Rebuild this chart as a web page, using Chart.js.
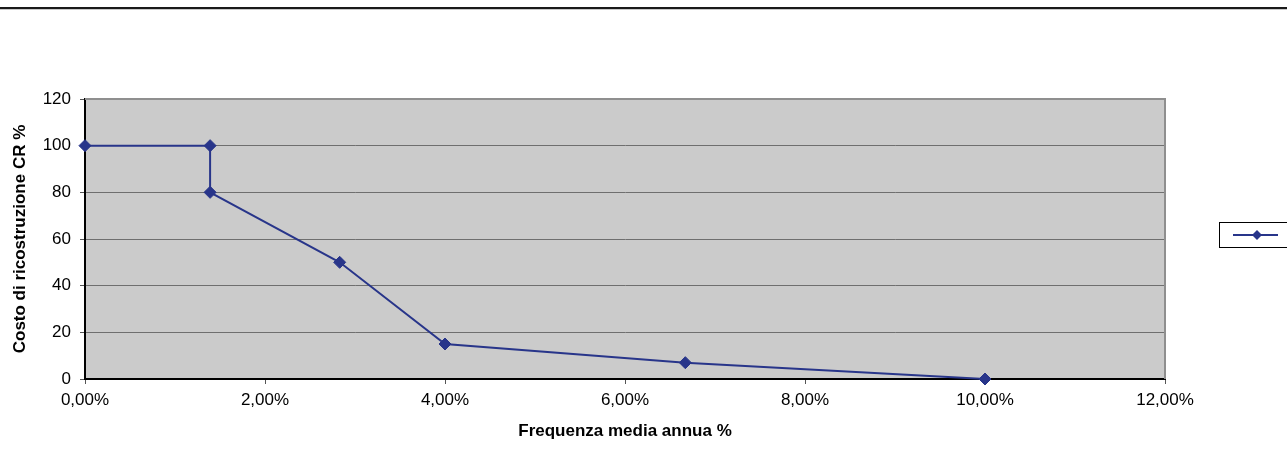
<!DOCTYPE html>
<html>
<head>
<meta charset="utf-8">
<script src="https://cdn.jsdelivr.net/npm/chart.js@4/dist/chart.umd.min.js"></script>
<style>
  html, body { margin: 0; padding: 0; background: #ffffff; }
  #wrap { position: relative; width: 1287px; height: 467px; overflow: hidden; }
  #rule { position: absolute; left: 0; top: 7px; width: 1287px; height: 2px; background: #1a1a1a; border-bottom: 1px solid #c8c8c8; }
  canvas { position: absolute; left: 0; top: 0; }
</style>
</head>
<body>
<div id="wrap">
  <div id="rule"></div>
  <canvas id="chart" width="1287" height="467"></canvas>
</div>
<script>
// Frequenza media annua (frazione) e costo di ricostruzione CR %
const frequenza = [0, 0.0139, 0.0139, 0.0283, 0.04, 0.0667, 0.10];
const costoCR = [100, 100, 80, 50, 15, 7, 0];
const xTicks = [0, 0.02, 0.04, 0.06, 0.08, 0.10, 0.12];
const yTicks = [0, 20, 40, 60, 80, 100, 120];
const xTitle = 'Frequenza media annua %';
const yTitle = 'Costo di ricostruzione CR %';

const FONT = "'Liberation Sans', Arial, sans-serif";
const LINE = '#28358a';

const points = frequenza.map((f, i) => ({ x: f, y: costoCR[i] }));

const plotFrame = {
  id: 'plotFrame',
  beforeDraw(chart) {
    const { ctx, chartArea: a } = chart;
    ctx.save();
    ctx.fillStyle = '#cbcbcb';
    ctx.fillRect(a.left, a.top, a.right - a.left, a.bottom - a.top);
    ctx.restore();
  },
  beforeDatasetsDraw(chart) {
    const { ctx, chartArea: a } = chart;
    ctx.save();
    ctx.strokeStyle = '#8f8f8f';
    ctx.lineWidth = 2;
    ctx.beginPath();
    ctx.moveTo(a.left, a.top);
    ctx.lineTo(a.right, a.top);
    ctx.lineTo(a.right, a.bottom);
    ctx.stroke();
    ctx.restore();
  },
  afterDraw(chart) {
    // legend key box with the series line and marker
    const { ctx } = chart;
    const ds = chart.data.datasets[0];
    ctx.save();
    ctx.strokeStyle = '#000000';
    ctx.lineWidth = 1;
    ctx.strokeRect(1219.5, 222.5, 80, 25);
    ctx.strokeStyle = ds.borderColor;
    ctx.lineWidth = 2;
    ctx.beginPath();
    ctx.moveTo(1233, 235);
    ctx.lineTo(1278, 235);
    ctx.stroke();
    ctx.fillStyle = ds.pointBackgroundColor;
    ctx.beginPath();
    const r = 5;
    ctx.moveTo(1257, 235 - r);
    ctx.lineTo(1257 + r, 235);
    ctx.lineTo(1257, 235 + r);
    ctx.lineTo(1257 - r, 235);
    ctx.closePath();
    ctx.fill();
    ctx.restore();
  }
};

new Chart(document.getElementById('chart'), {
  type: 'scatter',
  data: {
    datasets: [{
      label: '',
      data: points,
      showLine: true,
      borderColor: LINE,
      backgroundColor: LINE,
      pointBackgroundColor: LINE,
      pointBorderColor: LINE,
      borderWidth: 2,
      pointStyle: 'rectRot',
      pointRadius: 6,
      pointBorderWidth: 1,
      tension: 0,
      clip: false
    }]
  },
  options: {
    responsive: false,
    animation: false,
    devicePixelRatio: 1,
    layout: { padding: { top: 99, right: 122, bottom: 0, left: 0 } },
    plugins: {
      legend: { display: false },
      tooltip: { enabled: false }
    },
    scales: {
      x: {
        type: 'linear',
        min: 0,
        max: 0.12,
        afterFit(scale) { scale.height = 88; },
        afterBuildTicks(scale) { scale.ticks = xTicks.map(v => ({ value: v })); },
        ticks: {
          font: { family: FONT, size: 17 },
          color: '#000000',
          padding: 6,
          maxRotation: 0,
          autoSkip: false,
          callback: v => (v * 100).toFixed(2).replace('.', ',') + '%'
        },
        grid: {
          drawOnChartArea: false,
          drawTicks: true,
          tickLength: 5,
          tickColor: '#555555',
          tickWidth: 1
        },
        border: { display: true, color: '#000000', width: 2 },
        title: {
          display: true,
          text: xTitle,
          font: { family: FONT, size: 17, weight: 'bold' },
          color: '#000000',
          padding: { top: 0, bottom: 25 }
        }
      },
      y: {
        type: 'linear',
        min: 0,
        max: 120,
        afterFit(scale) { scale.width = 85; },
        afterBuildTicks(scale) { scale.ticks = yTicks.map(v => ({ value: v })); },
        ticks: {
          font: { family: FONT, size: 17 },
          color: '#000000',
          padding: 9,
          autoSkip: false
        },
        grid: {
          drawOnChartArea: true,
          drawTicks: true,
          tickLength: 5,
          color: ctx => (ctx.tick && ctx.tick.value === 120) ? 'rgba(0,0,0,0)' : '#6f6f6f',
          tickColor: '#555555',
          lineWidth: 1
        },
        border: { display: true, color: '#000000', width: 2 },
        title: {
          display: true,
          text: yTitle,
          font: { family: FONT, size: 17, weight: 'bold' },
          color: '#000000',
          padding: { top: 10, bottom: 0 }
        }
      }
    }
  },
  plugins: [plotFrame]
});
</script>
</body>
</html>
